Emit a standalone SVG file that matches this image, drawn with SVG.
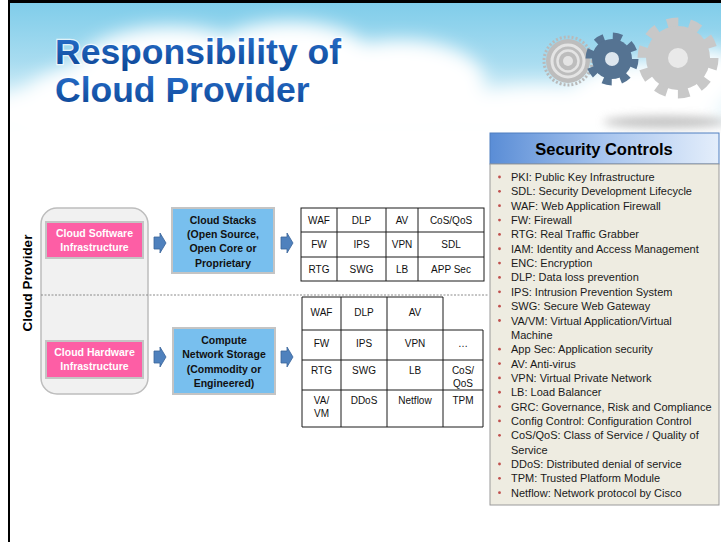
<svg xmlns="http://www.w3.org/2000/svg" width="721" height="542" viewBox="0 0 721 542">
  <defs>
    <linearGradient id="sky" x1="0" y1="0" x2="0" y2="1">
      <stop offset="0" stop-color="#80cdea"/>
      <stop offset="0.45" stop-color="#a8dcf0"/>
      <stop offset="1" stop-color="#ffffff"/>
    </linearGradient>
    <linearGradient id="titleFill" x1="0" y1="0" x2="0" y2="1">
      <stop offset="0" stop-color="#2a72cf"/>
      <stop offset="1" stop-color="#0a4392"/>
    </linearGradient>
    <linearGradient id="headFill" x1="0" y1="0" x2="1" y2="0">
      <stop offset="0" stop-color="#5a8dd6"/>
      <stop offset="0.5" stop-color="#a8c5ee"/>
      <stop offset="1" stop-color="#e4eefb"/>
    </linearGradient>
    <filter id="soft" x="-30%" y="-30%" width="160%" height="160%">
      <feGaussianBlur stdDeviation="9"/>
    </filter>
    <filter id="shade" x="-30%" y="-100%" width="160%" height="300%">
      <feGaussianBlur stdDeviation="5"/>
    </filter>
    <path id="arr" d="M0,-6 H6 V-10 L12,0 L6,10 V6 H0 Z"/>
  </defs>
  <style>
    text { font-family: "Liberation Sans", Arial, sans-serif; }
    .title { font-size: 35.5px; font-weight: bold; fill: url(#titleFill); stroke: #ffffff; stroke-width: 2.5; stroke-opacity: 0.7; paint-order: stroke; }
    .side { font-size: 13.5px; font-weight: bold; fill: #000; text-anchor: middle; }
    .holder { fill: #f1f1f1; stroke: #bdbdbd; stroke-width: 1.5; }
    .pink { fill: #fd5ea5; stroke: #c4c4c4; stroke-width: 2; }
    .pinkt { font-size: 10.5px; font-weight: bold; fill: #ffffff; text-anchor: middle; }
    .blue { fill: #78bfee; stroke: #c4c4c4; stroke-width: 2; }
    .bluet { font-size: 10.5px; font-weight: bold; fill: #111; text-anchor: middle; }
    .grid { fill: none; stroke: #1a1a1a; stroke-width: 1; }
    .ct { font-size: 10px; fill: #111; text-anchor: middle; }
    .arrow { fill: #4f81bd; stroke: #3a659a; stroke-width: 0.8; }
    .divider { stroke: #8a8a8a; stroke-width: 1; stroke-dasharray: 2 1.5; }
    .head { fill: url(#headFill); stroke: #4f7fc0; stroke-width: 1; }
    .headt { font-size: 16.5px; font-weight: bold; fill: #000; text-anchor: middle; }
    .panel { fill: #eeece1; stroke: #9a9a9a; stroke-width: 1; }
    .li { font-size: 11px; fill: #1a1a1a; }
    .dot { fill: #c0504d; }
  </style>

  <!-- page -->
  <rect x="0" y="0" width="721" height="542" fill="#ffffff"/>

  <!-- sky banner with soft clouds -->
  <g id="banner">
    <rect x="9" y="3" width="712" height="130" fill="url(#sky)"/>
    <g fill="#ffffff" filter="url(#soft)">
      <ellipse cx="210" cy="100" rx="190" ry="50"/>
      <ellipse cx="170" cy="72" rx="95" ry="45"/>
      <ellipse cx="290" cy="62" rx="85" ry="40"/>
      <ellipse cx="400" cy="82" rx="85" ry="42"/>
      <ellipse cx="60" cy="115" rx="80" ry="28"/>
      <ellipse cx="540" cy="112" rx="90" ry="26"/>
      <ellipse cx="650" cy="94" rx="80" ry="33"/>
      <ellipse cx="705" cy="76" rx="40" ry="28"/>
      <rect x="9" y="118" width="712" height="20"/>
    </g>
    <ellipse cx="665" cy="122" rx="62" ry="6" fill="#9a9a9a" opacity="0.6" filter="url(#shade)"/>
  </g>

  <!-- gears -->
  <g id="gears">
    <g transform="translate(568 61)">
      <circle r="24" fill="none" stroke="#b9b9b9" stroke-width="3" stroke-dasharray="2 2"/>
      <circle r="22" fill="#bdbdbd"/>
      <circle r="16" fill="none" stroke="#e4e4e4" stroke-width="3"/>
      <circle r="10.5" fill="none" stroke="#e4e4e4" stroke-width="2.5"/>
      <circle r="5" fill="#e4e4e4"/>
    </g>
    <g transform="translate(612 59)">
      <circle r="22" fill="none" stroke="#557392" stroke-width="9" stroke-dasharray="8.6 8.7"/>
      <circle r="20" fill="#557392"/>
      <circle r="7" fill="#dde6ee"/>
    </g>
    <g transform="translate(678 58)">
      <circle r="35" fill="none" stroke="#c8c8c8" stroke-width="11" stroke-dasharray="11 11"/>
      <circle r="32" fill="#c8c8c8"/>
      <circle r="10" fill="#e9e9e9"/>
    </g>
  </g>

  <!-- frame edges -->
  <line x1="8" y1="1.5" x2="721" y2="1.5" stroke="#000" stroke-width="3"/>
  <line x1="9" y1="0" x2="9" y2="542" stroke="#000" stroke-width="2"/>

  <!-- title -->
  <g id="title">
    <text class="title" x="55" y="64">Responsibility of</text>
    <text class="title" x="55" y="102">Cloud Provider</text>
  </g>

  <!-- side label -->
  <g id="cloud-provider-label">
    <text class="side" transform="translate(32 283) rotate(-90)">Cloud Provider</text>
  </g>

  <!-- infrastructure container -->
  <g id="infrastructure">
    <rect class="holder" x="41" y="208" width="107" height="186" rx="16"/>
  </g>

  <line id="divider" class="divider" x1="41" y1="295" x2="488" y2="295"/>

  <g id="cloud-software">
    <rect class="pink" x="46" y="222" width="97" height="36"/>
    <text class="pinkt" x="94.5" y="237">Cloud Software</text>
    <text class="pinkt" x="94.5" y="251">Infrastructure</text>
  </g>

  <g id="cloud-hardware">
    <rect class="pink" x="46" y="341" width="97" height="37"/>
    <text class="pinkt" x="94.5" y="356">Cloud Hardware</text>
    <text class="pinkt" x="94.5" y="370">Infrastructure</text>
  </g>

  <g id="cloud-stacks">
    <rect class="blue" x="172" y="208" width="102" height="65"/>
    <text class="bluet" x="223" y="224">Cloud Stacks</text>
    <text class="bluet" x="223" y="238">(Open Source,</text>
    <text class="bluet" x="223" y="252">Open Core or</text>
    <text class="bluet" x="223" y="267">Proprietary</text>
  </g>

  <g id="compute-network-storage">
    <rect class="blue" x="173" y="328" width="102" height="66"/>
    <text class="bluet" x="224" y="344">Compute</text>
    <text class="bluet" x="224" y="358">Network Storage</text>
    <text class="bluet" x="224" y="373">(Commodity or</text>
    <text class="bluet" x="224" y="387">Engineered)</text>
  </g>

  <!-- software controls table -->
  <g id="software-controls">
    <rect class="grid" x="301" y="208" width="183" height="73"/>
    <path class="grid" d="M301,232H484M301,257H484M337,208V281M386,208V281M418,208V281"/>
    <g class="ct">
      <text x="319" y="223.5">WAF</text>
      <text x="361.5" y="223.5">DLP</text>
      <text x="402" y="223.5">AV</text>
      <text x="451" y="223.5">CoS/QoS</text>
      <text x="319" y="248">FW</text>
      <text x="361.5" y="248">IPS</text>
      <text x="402" y="248">VPN</text>
      <text x="451" y="248">SDL</text>
      <text x="319" y="272.5">RTG</text>
      <text x="361.5" y="272.5">SWG</text>
      <text x="402" y="272.5">LB</text>
      <text x="451" y="272.5">APP Sec</text>
    </g>
  </g>

  <!-- hardware controls table -->
  <g id="hardware-controls">
    <path class="grid" d="M302,297H443M302,330H483M302,360H483M302,390H483M302,427H483M302,297V427M341,297V427M387,297V427M443,297V427M483,330V427"/>
    <g class="ct">
      <text x="321.5" y="315.5">WAF</text>
      <text x="364" y="315.5">DLP</text>
      <text x="415" y="315.5">AV</text>
      <text x="321.5" y="346.5">FW</text>
      <text x="364" y="346.5">IPS</text>
      <text x="415" y="346.5">VPN</text>
      <text x="463" y="346.5">…</text>
      <text x="321.5" y="373.5">RTG</text>
      <text x="364" y="373.5">SWG</text>
      <text x="415" y="373.5">LB</text>
      <text x="463" y="373.5">CoS/</text>
      <text x="463" y="386.5">QoS</text>
      <text x="321.5" y="403.5">VA/</text>
      <text x="321.5" y="416.5">VM</text>
      <text x="364" y="403.5">DDoS</text>
      <text x="415" y="403.5">Netflow</text>
      <text x="463" y="403.5">TPM</text>
    </g>
  </g>

  <!-- flow arrows -->
  <g id="connectors" class="arrow">
    <use href="#arr" x="154" y="243"/>
    <use href="#arr" x="281" y="243"/>
    <use href="#arr" x="154" y="357"/>
    <use href="#arr" x="281" y="357"/>
  </g>

  <!-- legend of abbreviations -->
  <g id="security-controls">
    <rect class="head" x="490" y="133" width="229" height="31"/>
    <text class="headt" x="604" y="155">Security Controls</text>
    <rect class="panel" x="490" y="164" width="229" height="341"/>
    <g class="dot">
      <circle cx="499.5" cy="177" r="1.4"/>
      <circle cx="499.5" cy="191.35" r="1.4"/>
      <circle cx="499.5" cy="205.7" r="1.4"/>
      <circle cx="499.5" cy="220.05" r="1.4"/>
      <circle cx="499.5" cy="234.4" r="1.4"/>
      <circle cx="499.5" cy="248.75" r="1.4"/>
      <circle cx="499.5" cy="263.1" r="1.4"/>
      <circle cx="499.5" cy="277.45" r="1.4"/>
      <circle cx="499.5" cy="291.8" r="1.4"/>
      <circle cx="499.5" cy="306.15" r="1.4"/>
      <circle cx="499.5" cy="320.5" r="1.4"/>
      <circle cx="499.5" cy="349.2" r="1.4"/>
      <circle cx="499.5" cy="363.55" r="1.4"/>
      <circle cx="499.5" cy="377.9" r="1.4"/>
      <circle cx="499.5" cy="392.25" r="1.4"/>
      <circle cx="499.5" cy="406.6" r="1.4"/>
      <circle cx="499.5" cy="420.95" r="1.4"/>
      <circle cx="499.5" cy="435.3" r="1.4"/>
      <circle cx="499.5" cy="464" r="1.4"/>
      <circle cx="499.5" cy="478.35" r="1.4"/>
      <circle cx="499.5" cy="492.7" r="1.4"/>
    </g>
    <text class="li" x="511" y="181">
      <tspan x="511">PKI: Public Key Infrastructure</tspan>
      <tspan x="511" dy="14.35">SDL: Security Development Lifecycle</tspan>
      <tspan x="511" dy="14.35">WAF: Web Application Firewall</tspan>
      <tspan x="511" dy="14.35">FW: Firewall</tspan>
      <tspan x="511" dy="14.35">RTG: Real Traffic Grabber</tspan>
      <tspan x="511" dy="14.35">IAM: Identity and Access Management</tspan>
      <tspan x="511" dy="14.35">ENC: Encryption</tspan>
      <tspan x="511" dy="14.35">DLP: Data loss prevention</tspan>
      <tspan x="511" dy="14.35">IPS: Intrusion Prevention System</tspan>
      <tspan x="511" dy="14.35">SWG: Secure Web Gateway</tspan>
      <tspan x="511" dy="14.35">VA/VM: Virtual Application/Virtual</tspan>
      <tspan x="511" dy="14.35">Machine</tspan>
      <tspan x="511" dy="14.35">App Sec: Application security</tspan>
      <tspan x="511" dy="14.35">AV: Anti-virus</tspan>
      <tspan x="511" dy="14.35">VPN: Virtual Private Network</tspan>
      <tspan x="511" dy="14.35">LB: Load Balancer</tspan>
      <tspan x="511" dy="14.35">GRC: Governance, Risk and Compliance</tspan>
      <tspan x="511" dy="14.35">Config Control: Configuration Control</tspan>
      <tspan x="511" dy="14.35">CoS/QoS: Class of Service / Quality of</tspan>
      <tspan x="511" dy="14.35">Service</tspan>
      <tspan x="511" dy="14.35">DDoS: Distributed denial of service</tspan>
      <tspan x="511" dy="14.35">TPM: Trusted Platform Module</tspan>
      <tspan x="511" dy="14.35">Netflow: Network protocol by Cisco</tspan>
    </text>
  </g>
</svg>
